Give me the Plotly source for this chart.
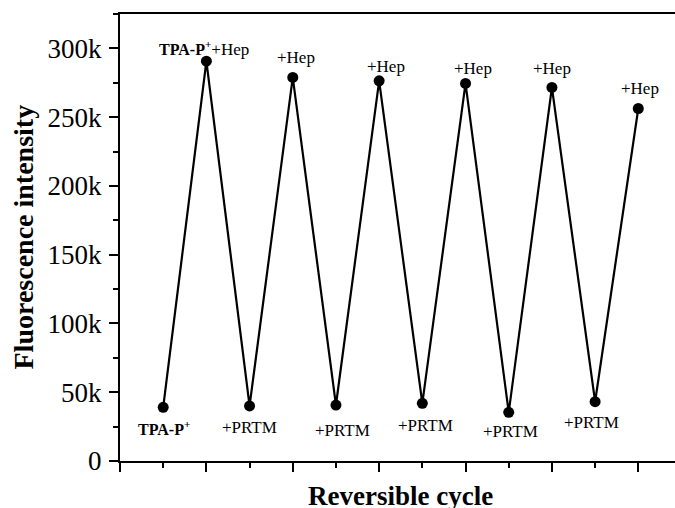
import plotly.graph_objects as go

# ---- data ----
cycle_pos = [1, 2, 3, 4, 5, 6, 7, 8, 9, 10, 11, 12]
intensity = [39000, 290700, 40000, 278900, 40700, 276400,
             41900, 274500, 35400, 271600, 43100, 256300]
point_labels = ["<b><span style='font-size:16px'>TPA-P<sup>+</sup></span></b>",
                "<b><span style='font-size:16px'>TPA-P<sup>+</sup></span></b>+Hep",
                "+PRTM", "+Hep", "+PRTM", "+Hep", "+PRTM", "+Hep",
                "+PRTM", "+Hep", "+PRTM", "+Hep"]
y_tickvals = [0, 50000, 100000, 150000, 200000, 250000, 300000]
y_ticktext = ["0", "50k", "100k", "150k", "200k", "250k", "300k"]
x_major = [0, 2, 4, 6, 8, 10, 12]
x_minor = [1, 3, 5, 7, 9, 11]

# label offsets in px (styling)
label_dx = [1, -2, 0, 3, 7, 7, 3, 7, 2, 0, -4, 2]
label_dy = [-21, 13, -22, 20, -25, 14, -22, 15, -19, 19, -21, 20]

FONT = "Liberation Serif, Times New Roman, serif"

fig = go.Figure()
fig.add_trace(go.Scatter(
    x=cycle_pos, y=intensity, mode="lines+markers",
    line=dict(color="black", width=2.2),
    marker=dict(color="black", size=11),
    showlegend=False, cliponaxis=False,
))

annotations = []
for xv, yv, t, dx, dy in zip(cycle_pos, intensity, point_labels, label_dx, label_dy):
    annotations.append(dict(
        x=xv, y=yv, xref="x", yref="y", text=t, showarrow=False,
        xanchor="center", yanchor="middle", xshift=dx, yshift=dy,
        font=dict(family=FONT, size=17, color="black"),
    ))

annotations.append(dict(
    x=6.5, y=0, xref="x", yref="paper", text="<b>Reversible cycle</b>",
    showarrow=False, xanchor="center", yanchor="middle", yshift=-35,
    font=dict(family=FONT, size=27, color="black"),
))
annotations.append(dict(
    x=0, y=0.5, xref="paper", yref="paper", text="<b>Fluorescence intensity</b>",
    showarrow=False, textangle=-90, xanchor="center", yanchor="middle",
    xshift=-97, font=dict(family=FONT, size=28, color="black"),
))

fig.update_layout(
    width=675, height=508, autosize=False,
    margin=dict(l=120, r=0, t=14, b=47, pad=0),
    paper_bgcolor="white", plot_bgcolor="white",
    font=dict(family=FONT, color="black"),
    annotations=annotations,
    xaxis=dict(
        range=[0, 12.85], showgrid=False, zeroline=False,
        showline=True, linewidth=2, linecolor="black", mirror=True,
        ticks="outside", ticklen=9, tickwidth=2, tickcolor="black",
        tickvals=x_major, showticklabels=False,
        minor=dict(tickvals=x_minor, ticks="outside", ticklen=5,
                   tickwidth=2, tickcolor="black", showgrid=False),
    ),
    yaxis=dict(
        range=[0, 325000], showgrid=False, zeroline=False,
        showline=True, linewidth=2, linecolor="black",
        ticks="outside", ticklen=9, tickwidth=2, tickcolor="black",
        tickvals=y_tickvals, ticktext=y_ticktext,
        tickfont=dict(family=FONT, size=27, color="black"),
        ticklabelstandoff=2,
        minor=dict(dtick=25000, tick0=0, ticks="outside", ticklen=5,
                   tickwidth=2, tickcolor="black", showgrid=False),
    ),
)

fig.write_html("out.html")
